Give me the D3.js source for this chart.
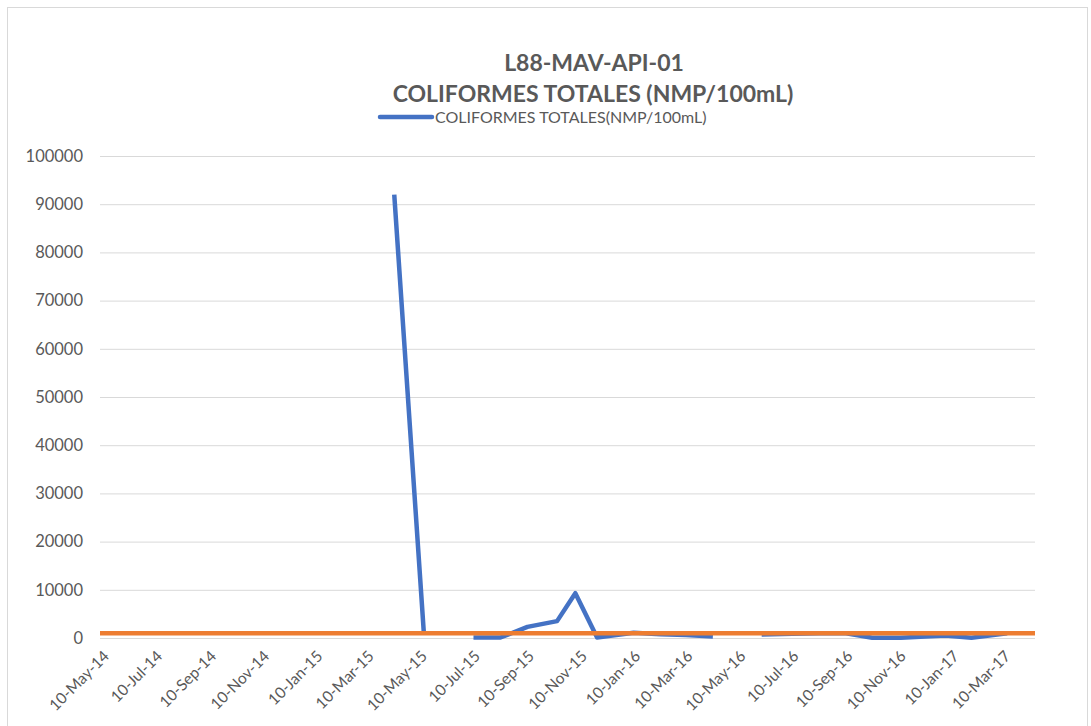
<!DOCTYPE html>
<html>
<head>
<meta charset="utf-8">
<script src="https://cdn.jsdelivr.net/npm/d3@7"></script>
<style>
  body { margin: 0; background: #fff; }
  text { font-family: Lato, "Open Sans", sans-serif; fill: #595959; }
</style>
</head>
<body>
<div id="chart"></div>
<script>
// sample dates and values (NMP/100mL), null = no sample
const sampleDates = [
  "2015-04-10", "2015-05-14", "2015-06-10", "2015-07-10", "2015-08-10",
  "2015-09-10", "2015-10-14", "2015-11-04", "2015-11-29", "2016-01-10",
  "2016-02-10", "2016-03-10", "2016-04-10", "2016-05-10", "2016-06-05",
  "2016-07-10", "2016-08-10", "2016-09-10", "2016-10-10", "2016-11-12",
  "2016-12-10", "2017-01-02", "2017-02-01", "2017-03-14"
];
const coliformes = [
  92000, 1000, null, 100, 100,
  2300, 3500, 9300, 100, 1100,
  800, 600, 300, null, 700,
  900, 1000, 1000, 50, 50,
  300, 500, 50, 1000
];
const limitDates = ["2014-05-07", "2017-04-15"];
const limitValues = [1000, 1000];
const tickLabels = [
  "10-May-14", "10-Jul-14", "10-Sep-14", "10-Nov-14", "10-Jan-15", "10-Mar-15",
  "10-May-15", "10-Jul-15", "10-Sep-15", "10-Nov-15", "10-Jan-16", "10-Mar-16",
  "10-May-16", "10-Jul-16", "10-Sep-16", "10-Nov-16", "10-Jan-17", "10-Mar-17"
];
const yTicks = [0, 10000, 20000, 30000, 40000, 50000, 60000, 70000, 80000, 90000, 100000];

const width = 1091;
const height = 726;
const plotLeft = 100, plotRight = 1035, plotTop = 156, plotBottom = 638;

const parse = d3.timeParse("%Y-%m-%d");
const parseTick = d3.timeParse("%d-%b-%y");

const svg = d3.select("#chart")
              .append("svg")
              .attr("width", width)
              .attr("height", height);

svg.append("rect")
   .attr("x", 7.5).attr("y", 7.5)
   .attr("width", 1080).attr("height", 740)
   .attr("fill", "none")
   .attr("stroke", "#d9d9d9");

const xScale = d3.scaleTime()
                 .domain(limitDates.map(parse))
                 .range([plotLeft, plotRight]);

const yScale = d3.scaleLinear()
                 .domain([0, 100000])
                 .range([plotBottom, plotTop]);

// gridlines + y labels
const yAxis = svg.append("g")
  .attr("transform", `translate(${plotLeft},0)`)
  .call(d3.axisLeft(yScale).tickValues(yTicks).tickSize(-(plotRight - plotLeft)).tickPadding(17).tickFormat(d3.format("d")));
yAxis.select(".domain").remove();
yAxis.selectAll(".tick line").attr("stroke", "#d9d9d9");
yAxis.selectAll(".tick text").style("font-size", "16.5px").attr("fill", "#595959");

// x labels
const xAxis = svg.append("g")
  .attr("transform", `translate(0,${plotBottom})`)
  .call(d3.axisBottom(xScale).tickValues(tickLabels.map(parseTick)).tickSize(0).tickFormat(d3.timeFormat("%d-%b-%y")));
xAxis.select(".domain").remove();
xAxis.selectAll(".tick text")
     .style("font-size", "15.5px")
     .attr("fill", "#595959")
     .attr("text-anchor", "end")
     .attr("dy", "0")
     .attr("transform", "translate(5,17) rotate(-45)");

const blueData = sampleDates.map((d, i) => ({ date: parse(d), value: coliformes[i] }));
const orangeData = limitDates.map((d, i) => ({ date: parse(d), value: limitValues[i] }));

const line = d3.line()
               .defined(d => d.value !== null)
               .x(d => xScale(d.date))
               .y(d => yScale(d.value));

svg.append("path")
   .datum(blueData)
   .attr("d", line)
   .attr("fill", "none")
   .attr("stroke", "#4472C4")
   .attr("stroke-width", 4.5)
   .attr("stroke-linejoin", "round");

svg.append("path")
   .datum(orangeData)
   .attr("d", line)
   .attr("fill", "none")
   .attr("stroke", "#ED7D31")
   .attr("stroke-width", 4.5);

// title
svg.append("text")
   .attr("x", 594).attr("y", 71)
   .attr("text-anchor", "middle")
   .style("font-size", "23px").style("font-weight", "bold")
   .text("L88-MAV-API-01");
svg.append("text")
   .attr("x", 593).attr("y", 102)
   .attr("text-anchor", "middle")
   .style("font-size", "23px").style("font-weight", "bold")
   .text("COLIFORMES TOTALES (NMP/100mL)");

// legend
svg.append("line")
   .attr("x1", 380).attr("x2", 432)
   .attr("y1", 117).attr("y2", 117)
   .attr("stroke", "#4472C4")
   .attr("stroke-width", 4.5)
   .attr("stroke-linecap", "round");
svg.append("text")
   .attr("x", 435).attr("y", 123)
   .style("font-size", "16px")
   .text("COLIFORMES TOTALES(NMP/100mL)");
</script>
</body>
</html>
